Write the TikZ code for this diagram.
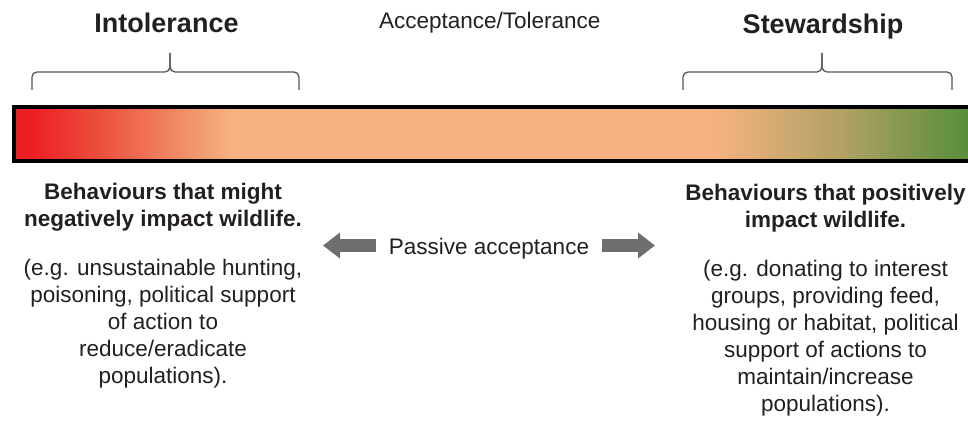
\documentclass[tikz,border=0pt]{standalone}
\usepackage{fontspec}
\setmainfont{Liberation Sans}
\usetikzlibrary{arrows.meta}
\definecolor{txt}{RGB}{35,31,32}
\definecolor{bracegray}{RGB}{85,85,85}
\definecolor{arrowgray}{RGB}{109,110,112}
\definecolor{cred}{RGB}{237,30,36}
\definecolor{cred2}{RGB}{236,72,58}
\definecolor{cpeach}{RGB}{244,178,130}
\definecolor{colive}{RGB}{178,162,100}
\definecolor{cgreen}{RGB}{86,141,58}
\begin{document}
\begin{tikzpicture}[x=1pt,y=-1pt,
  title/.style={font=\fontsize{27}{32}\selectfont\bfseries, text=txt, inner sep=0pt, anchor=base},
  body/.style={font=\fontsize{22.5}{27}\selectfont, text=txt, align=center, inner sep=0pt},
  bodyb/.style={font=\fontsize{22.5}{27}\selectfont\bfseries, text=txt, align=center, inner sep=0pt},
  brace/.style={draw=bracegray, line width=1.3pt, rounded corners=5pt},
  fatarrow/.style={draw=arrowgray, line width=13pt, -{Triangle[length=17pt,width=25pt]}}]
\useasboundingbox (0,0) rectangle (968,425);

% titles
\node[title] (intol) at (166.5,33) {Intolerance};
\node[body, anchor=base] (accept) at (489.7,29) {Acceptance/Tolerance};
\node[title] (stew) at (823,33.3) {Stewardship};

% braces
\coordinate (lbtip) at (170,53);
\coordinate (rbtip) at (822,53);
\draw[brace] (32,90) -- (32,72) -- (170,72) -- (lbtip);
\draw[brace] (299,90) -- (299,72) -- (170,72) -- (lbtip);
\draw[brace] (683,90) -- (683,72) -- (822,72) -- (rbtip);
\draw[brace] (952,90) -- (952,72) -- (822,72) -- (rbtip);

% gradient bar (strips)
\begin{scope}
\clip (0,0) rectangle (968,425);
\fill[cpeach] (228,105) rectangle (717,163);
\foreach \a/\b/\ca/\cb in {12/30/cred/cred, 30/90/cred/cred2, 90/230/cred2/cpeach, 715/840/cpeach/colive, 840/970/colive/cgreen} {
  \pgfmathtruncatemacro\n{(\b-\a)/2}
  \foreach \k in {0,...,\n} {
    \pgfmathsetmacro\p{100*\k/\n}
    \fill[\cb!\p!\ca] (\a+2*\k,105) rectangle ++(2.6,58);
  }
}
\draw[black, line width=4pt] (14,107) rectangle (985,161);
\end{scope}

% passive acceptance
\node[body, anchor=base] (passive) at (489,254) {Passive acceptance};
\coordinate (la) at (323,245.5);
\coordinate (ra) at (655,245.5);
\draw[fatarrow] ([xshift=-13pt]passive.west |- la) -- (la);
\draw[fatarrow] ([xshift=13pt]passive.east |- ra) -- (ra);

% left column
\node[bodyb, anchor=north] (lhead) at (163,183.4)
  {Behaviours that might\\negatively impact wildlife.};
\node[body, anchor=north] (lpara) at (163,258.6)
  {(e.g. unsustainable hunting,\\poisoning, political support\\of action to\\reduce/eradicate\\populations).};

% right column
\node[bodyb, anchor=north] (rhead) at (825.5,183.9)
  {Behaviours that positively\\impact wildlife.};
\node[body, anchor=north] (rpara) at (825.5,259.5)
  {(e.g. donating to interest\\groups, providing feed,\\housing or habitat, political\\support of actions to\\maintain/increase\\populations).};
\end{tikzpicture}
\end{document}
